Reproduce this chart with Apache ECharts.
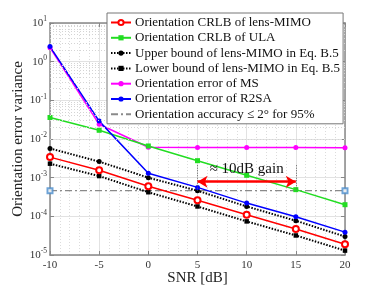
<!DOCTYPE html>
<html><head><meta charset="utf-8">
<script src="https://cdn.jsdelivr.net/npm/echarts@6/dist/echarts.min.js"></script>
<style>html,body{margin:0;padding:0;background:#fff}#c{width:382px;height:287px}</style>
</head><body><div id="c"></div>
<script>
const snr = [-10, -5, 0, 5, 10, 15, 20];
const crlbLens = [3.4e-3, 1.55e-3, 6.0e-4, 2.6e-4, 1.1e-4, 4.7e-5, 1.9e-5];
const crlbUla = [0.036, 0.0168, 6.6e-3, 2.75e-3, 1.15e-3, 4.9e-4, 2.0e-4];
const upperB = [5.7e-3, 2.6e-3, 1.0e-3, 4.6e-4, 1.8e-4, 7.7e-5, 3.0e-5];
const lowerB = [2.3e-3, 1.1e-3, 4.2e-4, 1.8e-4, 7.4e-5, 3.2e-5, 1.3e-5];
const errMS = [2.3, 0.024, 6.1e-3, 6.0e-3, 6.0e-3, 6.0e-3, 5.9e-3];
const errR2SA = [2.45, 0.029, 1.3e-3, 5.6e-4, 2.2e-4, 9.8e-5, 3.9e-5];
const threshold = 4.6e-4;
const thresholdX = [-10, 20];
const gainFrom = 5, gainTo = 15, gainLevel = 7.9e-4, gainTop = 2.1e-3, gainTextLevel = 1.65e-3;
const names = [
  "Orientation CRLB of lens-MIMO",
  "Orientation CRLB of ULA",
  "Upper bound of lens-MIMO in Eq. B.5",
  "Lower bound of lens-MIMO in Eq. B.5",
  "Orientation error of MS",
  "Orientation error of R2SA",
  "Orientation accuracy \u2264 2\u00b0 for 95%"
];
const FONT = 'Liberation Serif';
const pair = arr => snr.map((x, i) => [x, arr[i]]);
const minorY = [];
for (let d = -5; d <= 0; d++) for (let k = 2; k <= 9; k++) minorY.push({yAxis: k * Math.pow(10, d)});

const chart = echarts.init(document.getElementById('c'), null, {renderer: 'canvas'});
const supLabel = v => { const e = Math.round(Math.log10(v)); return '{b|10}{s|' + e + '}'; };
const rich = {b: {fontSize: 11, fontFamily: FONT, color: '#333'}, s: {fontSize: 7.5, fontFamily: FONT, color: '#333', padding: [0, 0, 7, 0]}};
const lineSeries = (name, data, color, symbol, extra) => Object.assign({
  name, type: 'line', data: pair(data), symbol, symbolSize: 5,
  lineStyle: {color, width: 1.5}, itemStyle: {color}, z: 3
}, extra || {});
const axisLine = {show: true, onZero: false, lineStyle: {color: '#888', width: 1.5}};

chart.setOption({
  animation: false,
  backgroundColor: '#fff',
  grid: {left: 50, right: 37, top: 23, bottom: 32, containLabel: false, outerBoundsMode: 'none'},
  legend: {
    orient: 'vertical', left: 107, top: 13,
    data: names.map((n, i) => i === 6 ? {name: n, itemStyle: {opacity: 0}} : n),
    backgroundColor: '#fff', borderColor: '#777', borderWidth: 1,
    padding: [3, 3, 3, 3], itemGap: 2.3, itemWidth: 20, itemHeight: 6.5,
    textStyle: {fontFamily: FONT, fontSize: 13, lineHeight: 12.5, color: '#111', padding: [0, 0, 0, -1]}, z: 10
  },
  xAxis: [{
    type: 'value', min: -10, max: 20, interval: 5,
    name: 'SNR [dB]', nameLocation: 'middle', nameGap: 16, nameMoveOverlap: false,
    nameTextStyle: {fontFamily: FONT, fontSize: 15, color: '#222'},
    axisLine,
    axisTick: {inside: true, length: 4, lineStyle: {color: '#888'}},
    axisLabel: {fontFamily: FONT, fontSize: 11, color: '#333', margin: 5},
    splitLine: {show: true, lineStyle: {color: '#e2e2e2', width: 1}},
    minorTick: {show: false, splitNumber: 5},
    minorSplitLine: {show: true, lineStyle: {color: '#dcdcdc', type: [1, 2], width: 1}}
  }, {
    type: 'value', min: -10, max: 20, interval: 5, position: 'top',
    axisLine,
    axisTick: {inside: true, length: 4, lineStyle: {color: '#888'}},
    axisLabel: {show: false}, splitLine: {show: false}
  }],
  yAxis: [{
    type: 'log', logBase: 10, min: 1e-5, max: 10, position: 'left',
    name: 'Orientation error variance', nameLocation: 'middle', nameGap: 24, nameMoveOverlap: false,
    nameTextStyle: {fontFamily: FONT, fontSize: 15, color: '#222'},
    axisLine,
    axisTick: {inside: true, length: 4, lineStyle: {color: '#888'}},
    axisLabel: {formatter: supLabel, rich, margin: 3},
    splitLine: {show: true, lineStyle: {color: '#e2e2e2', width: 1}}
  }, {
    type: 'log', logBase: 10, min: 1e-5, max: 10, position: 'right',
    axisLine,
    axisTick: {inside: true, length: 4, lineStyle: {color: '#888'}},
    axisLabel: {show: false}, splitLine: {show: false}
  }],
  series: [
    {
      name: 'minor', type: 'scatter', data: thresholdX.map(x => [x, threshold]),
      symbol: 'emptyRect', symbolSize: 5, itemStyle: {color: '#4a8ccc', borderWidth: 1}, z: 6,
      markLine: {
        silent: true, symbol: 'none', label: {show: false}, animation: false,
        lineStyle: {color: '#d4d4d4', type: [1, 2], width: 1}, data: minorY
      }
    },
    {
      name: names[6], type: 'line', data: thresholdX.map(x => [x, threshold]), symbol: 'none',
      lineStyle: {color: '#8a8a8a', width: 1.3, type: [7, 3, 2, 3]}, itemStyle: {color: '#8a8a8a'}, z: 3,
      markLine: {
        silent: true, symbol: 'none', label: {show: false},
        lineStyle: {color: '#666', type: [1, 1.5], width: 1},
        data: [
          [{coord: [gainFrom, gainTop]}, {coord: [gainFrom, threshold]}],
          [{coord: [gainTo, gainTop]}, {coord: [gainTo, threshold]}]
        ]
      }
    },
    lineSeries(names[4], errMS, '#ff00ff', 'circle'),
    lineSeries(names[1], crlbUla, '#22dd22', 'rect'),
    lineSeries(names[2], upperB, '#000', 'circle', {lineStyle: {color: '#000', width: 2, type: [1.5, 1.5]}}),
    lineSeries(names[3], lowerB, '#000', 'rect', {symbolSize: 4.5, lineStyle: {color: '#000', width: 2, type: [1.5, 1.5]}}),
    lineSeries(names[0], crlbLens, '#ff0000', 'emptyCircle', {symbolSize: 6, itemStyle: {color: '#ff0000', borderWidth: 1.5}}),
    lineSeries(names[5], errR2SA, '#0000ff', 'circle', {
      markLine: {
        silent: true, symbol: ['arrow', 'arrow'], symbolSize: [9, 10],
        label: {show: false},
        lineStyle: {color: '#ff0000', width: 2.5, type: 'solid'},
        data: [[{coord: [gainFrom, gainLevel]}, {coord: [gainTo, gainLevel]}]]
      },
      markPoint: {
        silent: true, symbol: 'circle', symbolSize: 0,
        label: {show: true, formatter: '\u2248 10dB gain', fontFamily: FONT, fontSize: 15, color: '#111', position: 'inside'},
        data: [{coord: [10, gainTextLevel]}]
      }
    })
  ]
});
</script></body></html>
